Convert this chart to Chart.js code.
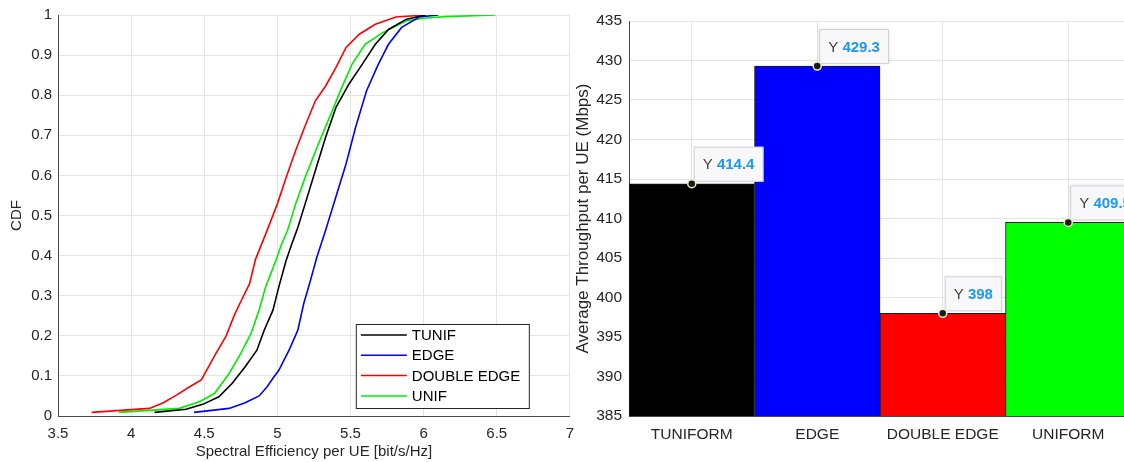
<!DOCTYPE html>
<html>
<head>
<meta charset="utf-8">
<script src="https://cdn.jsdelivr.net/npm/chart.js@4.4.1/dist/chart.umd.min.js"></script>
<style>
  html, body { margin: 0; padding: 0; background: #fff; overflow: hidden; }
  #wrap { position: relative; width: 1124px; height: 462px; overflow: hidden; }
  #cdfBox { position: absolute; left: 0; top: 0; width: 583px; height: 462px; }
  #barBox { position: absolute; left: 560px; top: 0; width: 576px; height: 462px; }
</style>
</head>
<body>
<div id="wrap">
  <div id="cdfBox"><canvas id="cdfChart" width="583" height="462"></canvas></div>
  <div id="barBox"><canvas id="barChart" width="576" height="462"></canvas></div>
</div>
<script>
// CDF curves
const tunifX = [4.16, 4.375, 4.49, 4.60, 4.69, 4.78, 4.86, 4.91, 4.97, 5.01, 5.06, 5.10, 5.14, 5.19, 5.26, 5.33, 5.40, 5.49, 5.58, 5.67, 5.76, 5.88, 6.01];
const tunifY = [0.009, 0.017, 0.029, 0.048, 0.081, 0.123, 0.164, 0.214, 0.264, 0.322, 0.388, 0.43, 0.47, 0.529, 0.612, 0.695, 0.769, 0.828, 0.877, 0.927, 0.964, 0.989, 1.0];

const edgeX = [4.43, 4.67, 4.78, 4.875, 4.93, 4.97, 5.01, 5.08, 5.14, 5.18, 5.22, 5.27, 5.33, 5.40, 5.47, 5.535, 5.61, 5.69, 5.76, 5.85, 5.97, 6.10];
const edgeY = [0.009, 0.019, 0.033, 0.05, 0.073, 0.094, 0.114, 0.164, 0.214, 0.28, 0.33, 0.396, 0.463, 0.546, 0.629, 0.72, 0.811, 0.877, 0.927, 0.969, 0.995, 1.0];

const dblEdgeX = [3.73, 4.125, 4.22, 4.31, 4.40, 4.48, 4.51, 4.58, 4.65, 4.705, 4.76, 4.81, 4.85, 4.93, 5.00, 5.06, 5.125, 5.19, 5.26, 5.33, 5.40, 5.47, 5.56, 5.67, 5.81, 6.02];
const dblEdgeY = [0.009, 0.019, 0.033, 0.052, 0.073, 0.09, 0.11, 0.156, 0.20, 0.251, 0.293, 0.33, 0.39, 0.463, 0.529, 0.595, 0.662, 0.724, 0.786, 0.823, 0.869, 0.919, 0.952, 0.977, 0.995, 1.0];

const unifX = [3.915, 4.33, 4.47, 4.57, 4.67, 4.75, 4.82, 4.875, 4.92, 4.99, 5.03, 5.07, 5.125, 5.19, 5.28, 5.375, 5.44, 5.51, 5.60, 5.72, 5.88, 6.00, 6.15, 6.49];
const unifY = [0.009, 0.019, 0.036, 0.056, 0.106, 0.156, 0.206, 0.264, 0.322, 0.388, 0.43, 0.463, 0.529, 0.595, 0.678, 0.761, 0.819, 0.877, 0.927, 0.956, 0.985, 0.992, 0.996, 1.0];

// bar chart
const schemes = ['TUNIFORM', 'EDGE', 'DOUBLE EDGE', 'UNIFORM'];
const throughput = [414.4, 429.3, 398, 409.5];

const FONT = '"Liberation Sans", Arial, Helvetica, sans-serif';
const TXT = '#262626';
const AXIS = '#4a4a4a';
const GRID = '#e4e4e4';

const toPoints = (xs, ys) => xs.map((x, i) => ({ x: x, y: ys[i] }));
const trimNum = v => String(+(+v).toFixed(2));

// legend drawn inside the plot, bottom right (like matlab 'southeast')
const cdfLegend = {
  id: 'cdfLegend',
  afterDraw(chart) {
    const ctx = chart.ctx, a = chart.chartArea;
    const w = 173, h = 84;
    const left = a.right - 41 - w, top = a.bottom - 8 - h;
    ctx.save();
    ctx.fillStyle = '#fff';
    ctx.fillRect(left, top, w, h);
    ctx.strokeStyle = '#262626';
    ctx.lineWidth = 1;
    ctx.strokeRect(left + 0.5, top + 0.5, w, h);
    ctx.font = '15px ' + FONT;
    ctx.textBaseline = 'middle';
    chart.data.datasets.forEach((ds, i) => {
      const y = top + 11 + i * 20.3;
      ctx.strokeStyle = ds.borderColor;
      ctx.lineWidth = 1.5;
      ctx.beginPath();
      ctx.moveTo(left + 5, y);
      ctx.lineTo(left + 51, y);
      ctx.stroke();
      ctx.fillStyle = '#000';
      ctx.fillText(ds.label, left + 56, y + 1);
    });
    ctx.restore();
  }
};

// datatips on top of each bar
const dataTips = {
  id: 'dataTips',
  afterDatasetsDraw(chart) {
    const ctx = chart.ctx;
    const meta = chart.getDatasetMeta(0);
    const vals = chart.data.datasets[0].data;
    ctx.save();
    meta.data.forEach((bar, i) => {
      const px = bar.x, py = bar.y;
      const val = String(vals[i]);
      ctx.font = '15px ' + FONT;
      const wY = ctx.measureText('Y ').width;
      ctx.font = 'bold 15px ' + FONT;
      const wV = ctx.measureText(val).width;
      const bw = 9 + wY + wV + 9, bh = 35;
      const bx = px + 2, by = py - 2 - bh;
      ctx.shadowColor = 'rgba(0,0,0,0.15)';
      ctx.shadowBlur = 3;
      ctx.fillStyle = '#f8f8fb';
      ctx.fillRect(bx, by, bw, bh);
      ctx.shadowColor = 'transparent';
      ctx.strokeStyle = '#d2d2d6';
      ctx.lineWidth = 1;
      ctx.strokeRect(bx + 0.5, by + 0.5, bw - 1, bh - 1);
      ctx.textBaseline = 'middle';
      ctx.font = '15px ' + FONT;
      ctx.fillStyle = '#404040';
      ctx.fillText('Y', bx + 9, by + bh / 2 + 1);
      ctx.font = 'bold 15px ' + FONT;
      ctx.fillStyle = '#1a98f2';
      ctx.fillText(val, bx + 9 + wY, by + bh / 2 + 1);
      ctx.beginPath();
      ctx.arc(px, py, 4, 0, Math.PI * 2);
      ctx.fillStyle = '#1a1a1a';
      ctx.fill();
      ctx.strokeStyle = '#f2eec8';
      ctx.lineWidth = 1.5;
      ctx.stroke();
    });
    ctx.restore();
  }
};

const tickFont = { family: FONT, size: 15 };
const barTickFont = { family: FONT, size: 15.5 };

new Chart(document.getElementById('cdfChart'), {
  type: 'line',
  data: {
    datasets: [
      { label: 'TUNIF', data: toPoints(tunifX, tunifY), borderColor: '#000000' },
      { label: 'EDGE', data: toPoints(edgeX, edgeY), borderColor: '#0000ff' },
      { label: 'DOUBLE EDGE', data: toPoints(dblEdgeX, dblEdgeY), borderColor: '#ff0000' },
      { label: 'UNIF', data: toPoints(unifX, unifY), borderColor: '#00ee00' }
    ]
  },
  options: {
    responsive: false,
    animation: false,
    parsing: false,
    elements: { point: { radius: 0 }, line: { borderWidth: 1.6, tension: 0, fill: false } },
    layout: { padding: { top: 14, right: 7, left: 0, bottom: 0 } },
    plugins: { legend: { display: false }, tooltip: { enabled: false } },
    scales: {
      x: {
        type: 'linear', min: 3.5, max: 7,
        ticks: { stepSize: 0.5, color: TXT, font: tickFont, padding: 9, maxRotation: 0, callback: v => trimNum(v) },
        grid: { color: GRID, drawTicks: false },
        border: { color: AXIS },
        title: { display: true, text: 'Spectral Efficiency per UE [bit/s/Hz]', color: TXT, font: tickFont, padding: { top: 0, bottom: 1 } },
        afterFit: s => { s.height = 46; }
      },
      y: {
        type: 'linear', min: 0, max: 1,
        ticks: { stepSize: 0.1, color: TXT, font: tickFont, padding: 6, callback: v => trimNum(v) },
        grid: { color: GRID, drawTicks: false },
        border: { color: AXIS },
        title: { display: true, text: 'CDF', color: TXT, font: tickFont, padding: { top: 8, bottom: 0 } },
        afterFit: s => { s.width = 58; }
      }
    }
  },
  plugins: [cdfLegend]
});

new Chart(document.getElementById('barChart'), {
  type: 'bar',
  data: {
    labels: schemes,
    datasets: [{
      label: 'Average Throughput',
      data: throughput,
      backgroundColor: ['#000000', '#0000ff', '#ff0000', '#00ff00'],
      borderColor: '#1a1a1a',
      borderWidth: 1,
      barPercentage: 1,
      categoryPercentage: 1
    }]
  },
  options: {
    responsive: false,
    animation: false,
    layout: { padding: { top: 21, right: 5, left: 0, bottom: 0 } },
    plugins: { legend: { display: false }, tooltip: { enabled: false } },
    scales: {
      x: {
        ticks: { color: TXT, font: barTickFont, padding: 9 },
        grid: { color: GRID, drawTicks: false, offset: false },
        border: { color: AXIS },
        afterFit: s => { s.height = 46; }
      },
      y: {
        min: 385, max: 435,
        ticks: { stepSize: 5, color: TXT, font: barTickFont, padding: 7 },
        grid: { color: GRID, drawTicks: false },
        border: { color: AXIS },
        title: { display: true, text: 'Average Throughput per UE (Mbps)', color: TXT, font: { family: FONT, size: 17 }, padding: { top: 13, bottom: 0 } },
        afterFit: s => { s.width = 69; }
      }
    }
  },
  plugins: [dataTips]
});
</script>
</body>
</html>
